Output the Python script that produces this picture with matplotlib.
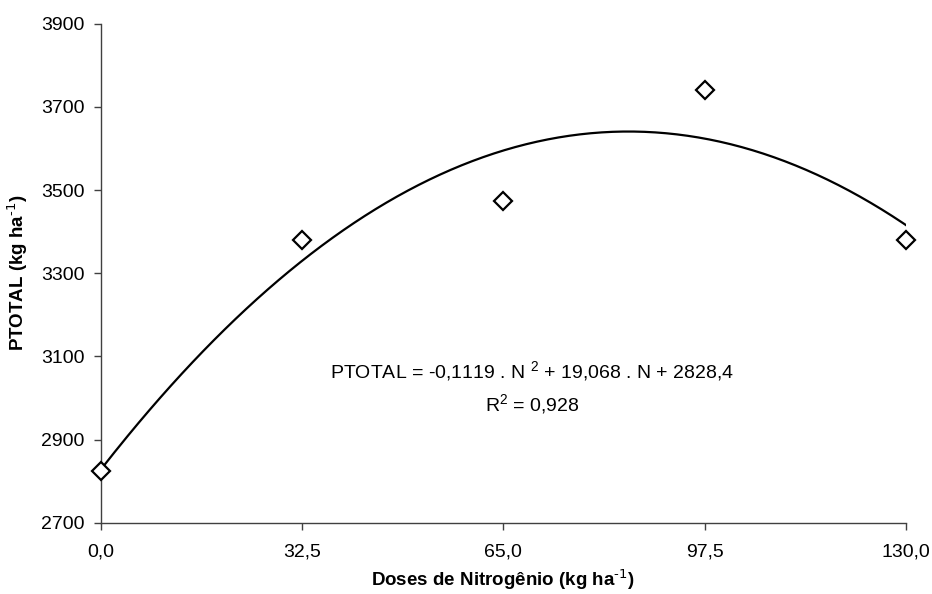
import numpy as np
import matplotlib
matplotlib.use('agg')
import matplotlib.pyplot as plt

plt.rcParams['font.family'] = ['Liberation Sans', 'DejaVu Sans']
plt.rcParams['mathtext.default'] = 'regular'
plt.rcParams['axes.unicode_minus'] = False

# nitrogen doses and measured PTOTAL
doses = [0.0, 32.5, 65.0, 97.5, 130.0]
ptotal = [2825, 3380, 3474, 3740, 3380]
dose_labels = ['0,0', '32,5', '65,0', '97,5', '130,0']

# quadratic fit coefficients (highest power first)
fit_coefs = [-0.1119, 19.068, 2828.4]
r2 = 0.928

fig = plt.figure(figsize=(9.32, 5.94), dpi=100)
ax = fig.add_axes([101 / 932, 1 - 522.7 / 594, 804.7 / 932, 499 / 594])

n = np.linspace(0, 130, 300)
ax.plot(n, np.polyval(fit_coefs, n), color='black', lw=1.6, zorder=2)
ax.plot(doses, ptotal, linestyle='none', marker='D', markersize=8.7,
        markerfacecolor='white', markeredgecolor='black', markeredgewidth=1.6,
        zorder=3, clip_on=False)

ax.set_xlim(0, 130)
ax.set_ylim(2700, 3900)
ax.set_xticks(doses)
ax.set_xticklabels(dose_labels)
ax.set_yticks(np.arange(2700, 3901, 200))

for side in ['top', 'right']:
    ax.spines[side].set_visible(False)
for side in ['left', 'bottom']:
    ax.spines[side].set_color('#404040')
    ax.spines[side].set_linewidth(1.0)
ax.tick_params(axis='both', direction='out', length=5, width=1.0,
               color='#404040', labelsize=14)
ax.tick_params(axis='x', pad=10)
ax.tick_params(axis='y', pad=7)

ax.set_xlabel('Doses de Nitrogênio (kg ha$^{\\text{-1}}$)', fontsize=13.5,
              fontweight='bold', labelpad=5)
ax.set_ylabel('PTOTAL (kg ha$^{\\text{-1}}$)', fontsize=13.5, fontweight='bold',
              labelpad=8)

eq = ('PTOTAL = -0,1119 . N $^{2}$ + 19,068 . N + 2828,4\n'
      'R$^{2}$ = ' + ('%.3f' % r2).replace('.', ','))
ax.text(69.6, 3024, eq, ha='center', va='center', fontsize=14,
        linespacing=1.5)

fig.savefig('out.png', dpi=100)
